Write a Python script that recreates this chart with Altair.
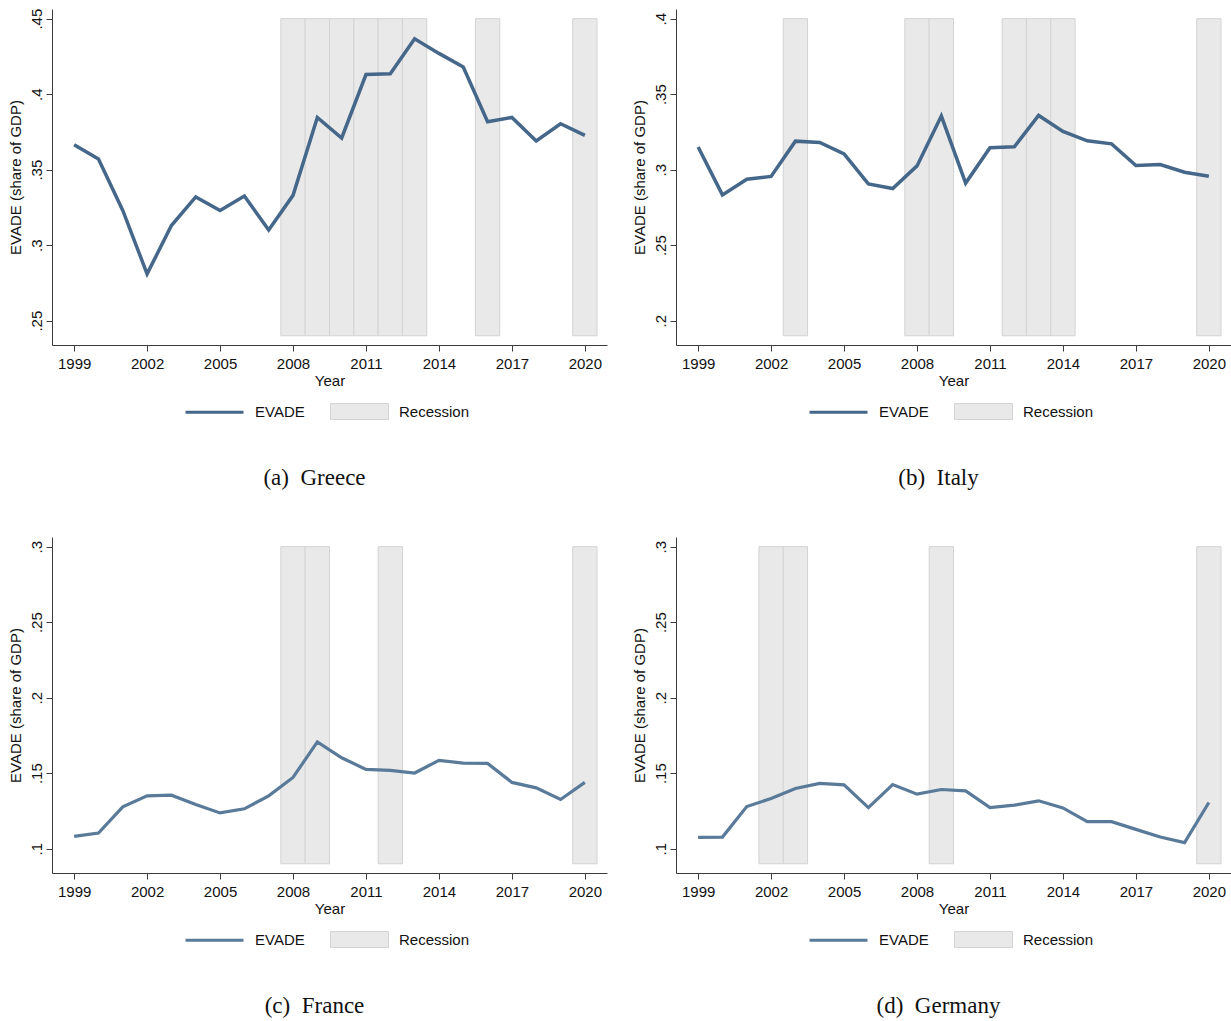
import altair as alt
import pandas as pd

# ---- data -------------------------------------------------------------
YEARS = list(range(1999, 2021))

GREECE = [0.3665, 0.357, 0.323, 0.281, 0.313, 0.332, 0.323, 0.3325, 0.310, 0.333,
          0.3846, 0.371, 0.413, 0.4135, 0.4367, 0.427, 0.418, 0.3817, 0.3846,
          0.369, 0.3804, 0.3727]
ITALY = [0.315, 0.2833, 0.2937, 0.2955, 0.3189, 0.318, 0.3105, 0.2906, 0.2875,
         0.3025, 0.3355, 0.2911, 0.3145, 0.3151, 0.3359, 0.3253, 0.3191, 0.3171,
         0.3028, 0.3034, 0.2983, 0.2957]
FRANCE = [0.1082, 0.1104, 0.1277, 0.135, 0.1354, 0.1292, 0.1237, 0.1264, 0.135,
          0.1472, 0.1707, 0.1602, 0.1525, 0.1518, 0.1501, 0.1585, 0.1567, 0.1565,
          0.1439, 0.1403, 0.1326, 0.1439]
GERMANY = [0.1075, 0.1077, 0.1279, 0.1332, 0.1399, 0.1432, 0.1423, 0.1272, 0.1425,
           0.1361, 0.1392, 0.1383, 0.1272, 0.1288, 0.1317, 0.127, 0.1179, 0.1179,
           0.1128, 0.1077, 0.104, 0.1306]

REC_GREECE = [2008, 2009, 2010, 2011, 2012, 2013, 2016, 2020]
REC_ITALY = [2003, 2008, 2009, 2012, 2013, 2014, 2020]
REC_FRANCE = [2008, 2009, 2012, 2020]
REC_GERMANY = [2002, 2003, 2009, 2020]

X_TICKS = [1999, 2002, 2005, 2008, 2011, 2014, 2017, 2020]

# ---- styling ----------------------------------------------------------
SANS = "Liberation Sans"
SERIF = "Liberation Serif"
BAND_FILL = "#e9e9e9"
BAND_EDGE = "#d3d3d3"
AXIS_COLOR = "#3c3c3c"
W, H = 555, 336


def panel(values, rec_years, band_lo, band_hi, y_domain, y_ticks, caption,
          line_color, line_width):
    line_df = pd.DataFrame({"year": YEARS, "evade": values, "series": "EVADE"})
    rec_df = pd.DataFrame({
        "start": [y - 0.5 for y in rec_years],
        "end": [y + 0.5 for y in rec_years],
        "lo": band_lo,
        "hi": band_hi,
        "series": "Recession",
    })

    x_scale = alt.Scale(domain=[1998.09, 2020.91], nice=False, zero=False)
    y_scale = alt.Scale(domain=y_domain, nice=False, zero=False)

    x_axis = alt.Axis(
        values=X_TICKS, format="d", title="Year", grid=False,
        labelFont=SANS, labelFontSize=15, labelColor="#111111", labelPadding=5,
        titleFont=SANS, titleFontSize=15, titleFontWeight="normal",
        titleColor="#111111", titlePadding=2,
        domainColor=AXIS_COLOR, tickColor=AXIS_COLOR, tickSize=6,
        labelFlush=False,
    )
    y_axis = alt.Axis(
        values=y_ticks, title="EVADE (share of GDP)", grid=False,
        labelExpr="substring(format(datum.value, '.2~f'), 1)",
        labelAngle=270, labelAlign="center", labelBaseline="alphabetic",
        labelFont=SANS, labelFontSize=15, labelColor="#111111", labelPadding=5,
        titleFont=SANS, titleFontSize=15, titleFontWeight="normal",
        titleColor="#111111", titlePadding=6,
        domainColor=AXIS_COLOR, tickColor=AXIS_COLOR, tickSize=6,
        labelFlush=False,
    )

    bands = alt.Chart(rec_df).mark_rect(
        stroke=BAND_EDGE, strokeWidth=1
    ).encode(
        x=alt.X("start:Q", scale=x_scale, axis=x_axis),
        x2="end:Q",
        y=alt.Y("lo:Q", scale=y_scale, axis=y_axis),
        y2="hi:Q",
        fill=alt.Fill(
            "series:N",
            scale=alt.Scale(domain=["Recession"], range=[BAND_FILL]),
            legend=alt.Legend(
                title=None, orient="none", legendX=278, legendY=373,
                symbolType="M-1,-0.276H1V0.276H-1Z", symbolSize=3364,
                symbolStrokeColor=BAND_EDGE, symbolStrokeWidth=1,
                symbolOpacity=1, padding=0,
                labelFont=SANS, labelFontSize=15, labelColor="#111111",
                labelOffset=10,
            ),
        ),
    )

    line = alt.Chart(line_df).mark_line(strokeWidth=line_width).encode(
        x=alt.X("year:Q", scale=x_scale, axis=x_axis),
        y=alt.Y("evade:Q", scale=y_scale, axis=y_axis),
        stroke=alt.Stroke(
            "series:N",
            scale=alt.Scale(domain=["EVADE"], range=[line_color]),
            legend=alt.Legend(
                title=None, orient="none", legendX=132, legendY=372.7,
                symbolType="stroke", symbolSize=3364,
                symbolStrokeWidth=3, padding=0,
                labelFont=SANS, labelFontSize=15, labelColor="#111111",
                labelOffset=10,
            ),
        ),
    )

    return alt.layer(bands, line).properties(
        width=W, height=H,
        title=alt.TitleParams(
            caption, orient="bottom", anchor="middle", font=SERIF,
            fontSize=23, fontWeight="normal", color="#111111",
            offset=45, dx=-15,
        ),
    ).resolve_legend(fill="independent", stroke="independent")


a = panel(GREECE, REC_GREECE, 0.24, 0.45, [0.2339, 0.4564],
          [0.25, 0.3, 0.35, 0.4, 0.45], "(a)\u00a0\u00a0Greece", "#45678a", 3.5)
b = panel(ITALY, REC_ITALY, 0.19, 0.40, [0.1839, 0.4064],
          [0.2, 0.25, 0.3, 0.35, 0.4], "(b)\u00a0\u00a0Italy", "#45678a", 3.5)
c = panel(FRANCE, REC_FRANCE, 0.09, 0.30, [0.0839, 0.3064],
          [0.1, 0.15, 0.2, 0.25, 0.3], "(c)\u00a0\u00a0France", "#5a7a9a", 3.2)
d = panel(GERMANY, REC_GERMANY, 0.09, 0.30, [0.0839, 0.3064],
          [0.1, 0.15, 0.2, 0.25, 0.3], "(d)\u00a0\u00a0Germany", "#5a7a9a", 3.2)

chart = alt.concat(
    a, b, c, d, columns=2, bounds="flush",
    spacing=alt.RowColnumber(row=192, column=69),
).resolve_scale(
    x="independent", y="independent", fill="independent", stroke="independent"
).resolve_legend(
    fill="independent", stroke="independent"
).properties(
    padding={"left": 8, "top": 8, "right": 0, "bottom": 0},
    background="white",
).configure_view(
    stroke=None
)

chart.save("out.html", embed_options={"renderer": "svg", "actions": False})
